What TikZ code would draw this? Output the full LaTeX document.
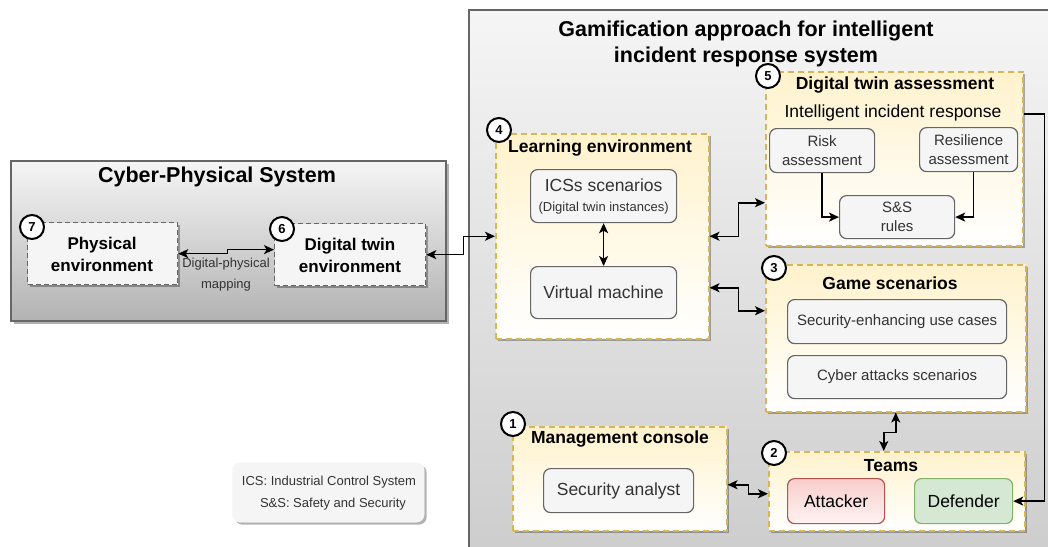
\documentclass[tikz,border=0pt]{standalone}
\usepackage{fontspec}
\setmainfont{Liberation Sans}
\usetikzlibrary{arrows.meta,shadows}

\definecolor{yfill}{HTML}{FFF2CC}
\definecolor{yline}{HTML}{D6B656}
\definecolor{gfill}{HTML}{F5F5F5}
\definecolor{gline}{HTML}{666666}
\definecolor{gtext}{HTML}{333333}
\definecolor{rfill}{HTML}{F8CECC}
\definecolor{rline}{HTML}{B85450}
\definecolor{grfill}{HTML}{D5E8D4}
\definecolor{grline}{HTML}{82B366}

\tikzset{
  shadowed/.style={drop shadow={shadow xshift=2.5pt,shadow yshift=-2.5pt,opacity=0.3,fill=black}},
  outerbox/.style={draw=gline, line width=2pt, top color=gfill, bottom color=#1, shadowed},
  dashbox/.style={draw=gline, line width=1.3pt, dash pattern=on 5pt off 3pt, fill=gfill, shadowed},
  yelbox/.style={draw=yline, line width=1.5pt, dash pattern=on 6pt off 4pt, top color=yfill, bottom color=white, shadowed},
  itembox/.style={draw=gline, line width=1.2pt, rounded corners=7pt, fill=gfill, text=gtext, align=center},
  numc/.style={circle, draw=black, line width=2pt, fill=white, minimum size=24pt, inner sep=0pt, font=\bfseries\fontsize{13}{15}\selectfont},
  ttl/.style={font=\bfseries\fontsize{21.5}{26}\selectfont, align=center},
  sub/.style={font=\bfseries\fontsize{17.5}{21}\selectfont},
  big/.style={font=\fontsize{17.5}{21}\selectfont},
  mid/.style={font=\fontsize{15}{19}\selectfont},
  sml/.style={font=\fontsize{13}{21}\selectfont},
  link/.style={line width=1.5pt, draw=black},
  biarr/.style={link, {Stealth[length=10pt,width=9pt,inset=2.5pt]}-{Stealth[length=10pt,width=9pt,inset=2.5pt]}},
  onearr/.style={link, -{Stealth[length=10pt,width=9pt,inset=2.5pt]}},
  box/.style={anchor=north west, inner sep=0pt}
}

\begin{document}
\begin{tikzpicture}[x=1pt,y=-1pt]
\clip (0,0) rectangle (1048,546);
\fill[white] (0,0) rectangle (1048,546);

% ---------- Cyber-physical system ----------
\node[box, outerbox=black!30, minimum width=435pt, minimum height=160pt] (cps) at (10,160) {};
\node[ttl] (cpst) at (217,177) {Cyber-Physical System};

\node[box, dashbox, minimum width=150pt, minimum height=62pt] (phys) at (27,222) {};
\node[font=\bfseries\fontsize{17}{22}\selectfont, align=center] (physt) at (102,254) {Physical\\environment};
\node[numc] (n7) at (32,227) {7};

\node[box, dashbox, minimum width=151pt, minimum height=62pt] (dtenv) at (274,223) {};
\node[font=\bfseries\fontsize{17}{22}\selectfont, align=center] (dtenvt) at (350,255) {Digital twin\\environment};
\node[numc] (n6) at (282,229) {6};

\node[sml, text=gtext, align=center] (mapl) at (226,275) {Digital-physical\\mapping};

% ---------- Gamification system ----------
\node[box, outerbox=black!20, minimum width=600pt, minimum height=560pt] (game) at (468,9) {};
\node[ttl] (gamet) at (746,44) {Gamification approach for intelligent\\incident response system};

% Learning environment
\node[box, yelbox, minimum width=213pt, minimum height=205pt] (learn) at (495,133) {};
\node[sub] (learnt) at (600,148) {Learning environment};
\node[numc] (n4) at (499,130) {4};
\node[box, itembox, minimum width=146pt, minimum height=53pt] (icss) at (530,169)
  {\fontsize{17.5}{21}\selectfont ICSs scenarios\\[8pt]\fontsize{13}{15}\selectfont (Digital twin instances)};
\node[box, itembox, big, minimum width=146pt, minimum height=52pt] (vm) at (530,266) {Virtual machine};

% Digital twin assessment
\node[box, yelbox, minimum width=257pt, minimum height=174pt] (dta) at (765,71) {};
\node[sub] (dtat) at (895,85) {Digital twin assessment};
\node[big] (iir) at (893,113) {Intelligent incident response};
\node[numc] (n5) at (768,76) {5};
\node[box, itembox, mid, minimum width=105pt, minimum height=44pt] (risk) at (769,128) {Risk\\assessment};
\node[box, itembox, mid, minimum width=98pt, minimum height=44pt] (resil) at (919,127) {Resilience\\assessment};
\node[box, itembox, mid, minimum width=115pt, minimum height=43pt] (ssr) at (839,195) {S\&S\\rules};

% Game scenarios
\node[box, yelbox, minimum width=260pt, minimum height=147pt] (gsc) at (765,264) {};
\node[sub] (gsct) at (890,283) {Game scenarios};
\node[numc] (n3) at (774,268) {3};
\node[box, itembox, mid, minimum width=219pt, minimum height=44pt] (seuc) at (787,299) {Security-enhancing use cases};
\node[box, itembox, mid, minimum width=219pt, minimum height=43pt] (cas) at (787,355) {Cyber attacks scenarios};

% Management console
\node[box, yelbox, minimum width=214pt, minimum height=104pt] (mc) at (512,426) {};
\node[sub] (mct) at (620,439) {Management console};
\node[numc] (n1) at (513,424) {1};
\node[box, itembox, big, minimum width=150pt, minimum height=44pt] (sa) at (543,468) {Security analyst};

% Teams
\node[box, yelbox, minimum width=256pt, minimum height=79pt] (teams) at (768,451) {};
\node[sub] (teamst) at (891,466) {Teams};
\node[numc] (n2) at (774,453) {2};
\node[box, itembox, big, draw=rline, top color=rfill, bottom color=rfill!25, text=black, minimum width=97pt, minimum height=45pt] (att) at (787,478) {Attacker};
\node[box, itembox, big, draw=grline, fill=grfill, text=black, minimum width=98pt, minimum height=45pt] (def) at (914,478) {Defender};

% ---------- Legend ----------
\node[box, rounded corners=8pt, fill=gfill, draw=white, shadowed, minimum width=192pt, minimum height=60pt] (leg) at (232,462) {};
\node[font=\fontsize{13}{22}\selectfont, text=gtext, align=center] (legt) at (329,493) {ICS: Industrial Control System\\\hspace*{8pt}S\&S: Safety and Security};

% ---------- Connectors ----------
\draw[biarr] (phys.east) -- ++(49,0) |- ([yshift=5pt]dtenv.west);
\draw[biarr] (dtenv.east) -- ++(37,0) |- (learn.west);
\draw[biarr] (icss.south) -- (vm.north);
\draw[biarr] (learn.east) -- ++(29,0) |- ([yshift=-44pt]dta.west);
\draw[biarr] ([yshift=-51.5pt]learn.east) -- ++(29,0) |- ([yshift=27.5pt]gsc.west);
\draw[onearr] (risk.south) |- (ssr.west);
\draw[onearr] ([xshift=5pt]resil.south) |- (ssr.east);
\draw[onearr] ([yshift=45pt]dta.east) -- ++(21,0) |- (def.east);
\draw[biarr] (gsc.south) -- ++(0,20) -| ([xshift=-13pt]teams.north);
\draw[biarr] ([yshift=-6pt]mc.east) -- ++(21,0) |- ([yshift=-2.5pt]teams.west);
\end{tikzpicture}
\end{document}
